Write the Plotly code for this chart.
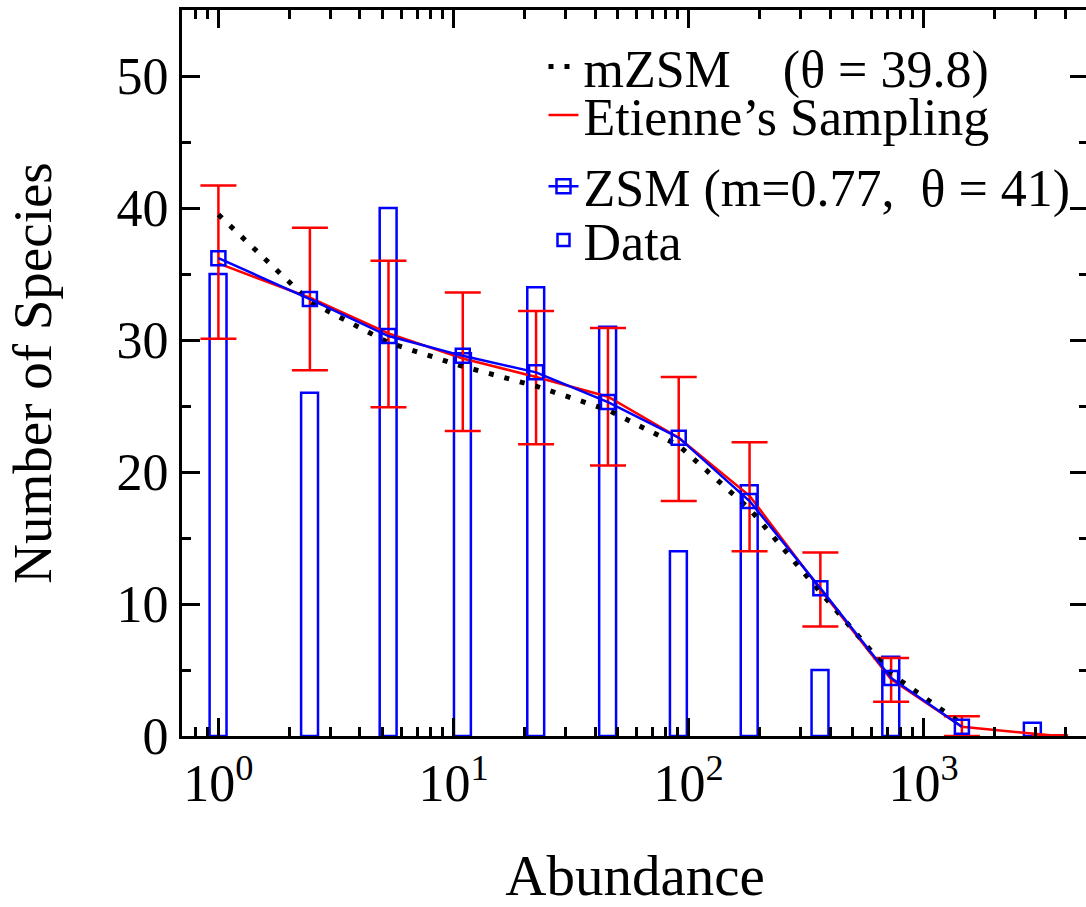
import plotly.graph_objects as go

# ---- data ----
bins = [1, 2.45, 5.29, 10.95, 22.45, 45.4, 90.8, 181.7, 363.5, 727, 1454, 2909]
data_counts = [35, 26, 40, 29, 34, 31, 14, 19, 5, 6, 0, 1]

zsm_x = [1, 2.45, 5.29, 10.95, 22.45, 45.4, 90.8, 181.7, 363.5, 727, 1454]
zsm_y = [36.2, 33.1, 30.3, 28.8, 27.55, 25.3, 22.6, 17.8, 11.2, 4.4, 0.7]

mzsm_x = [1, 2.45, 5.29, 10.95, 22.45, 45.4, 90.8, 181.7, 363.5, 727, 1454]
mzsm_y = [39.5, 32.9, 29.8, 28.0, 26.5, 24.7, 22.0, 17.2, 10.9, 4.7, 0.9]

etienne_x = [1, 2.45, 5.29, 10.95, 22.45, 45.4, 90.8, 181.7, 363.5, 727, 1454, 3450]
etienne_y = [35.8, 33.2, 30.5, 28.6, 27.2, 25.7, 22.6, 18.2, 11.1, 4.3, 0.7, 0.05]
etienne_hi = [41.7, 38.5, 36.0, 33.6, 32.2, 30.9, 27.2, 22.25, 13.9, 5.9, 1.5, 0.05]
etienne_lo = [30.1, 27.7, 24.9, 23.1, 22.1, 20.5, 17.8, 14.0, 8.3, 2.6, 0.0, 0.05]

x_tickvals = [1, 10, 100, 1000]
x_ticktext = ["10<sup>0</sup>", "10<sup>1</sup>", "10<sup>2</sup>", "10<sup>3</sup>"]
x_minor = [0.7, 0.8, 0.9] + [d * m for d in (1, 10, 100, 1000) for m in range(2, 10) if d * m <= 5000]

# ---- style ----
FONT = "Liberation Serif, Times New Roman, serif"
BLUE = "#0000ff"
RED = "#ff0000"
half = 1.086  # half bar width as a multiplicative factor in log space

err_plus = [h - c for h, c in zip(etienne_hi, etienne_y)]
err_minus = [c - l for c, l in zip(etienne_y, etienne_lo)]

fig = go.Figure()

# Data bars (open rectangles)
fig.add_trace(go.Bar(
    x=bins, y=data_counts,
    width=[b * (half - 1 / half) for b in bins],
    marker=dict(color="rgba(0,0,0,0)", line=dict(color=BLUE, width=2.5)),
    name="Data", legend="legend4",
))

# Etienne's sampling
fig.add_trace(go.Scatter(
    x=etienne_x, y=etienne_y, mode="lines",
    line=dict(color=RED, width=2.5),
    error_y=dict(type="data", symmetric=False, array=err_plus, arrayminus=err_minus,
                 color=RED, thickness=2.5, width=18),
    name="Etienne\u2019s Sampling", legend="legend2",
))

# mZSM dotted
fig.add_trace(go.Scatter(
    x=mzsm_x, y=mzsm_y, mode="lines",
    line=dict(color="black", width=5, dash="5px,11px"),
    name="mZSM\u00a0\u00a0\u00a0\u00a0(\u03b8 = 39.8)", legend="legend",
))

# ZSM
fig.add_trace(go.Scatter(
    x=zsm_x, y=zsm_y, mode="lines+markers",
    line=dict(color=BLUE, width=2.5),
    marker=dict(symbol="square-open", size=14, color=BLUE, line=dict(width=2.5, color=BLUE)),
    name="ZSM (m=0.77,\u00a0\u00a0\u03b8 = 41)", legend="legend3",
))

LEG_FONT = dict(family=FONT, size=52, color="black")
LEG_X = 0.399


def leg(y):
    return dict(x=LEG_X, y=y, xanchor="left", yanchor="middle", font=LEG_FONT,
                bgcolor="rgba(0,0,0,0)", itemwidth=30)


fig.update_layout(
    width=1094, height=907,
    margin=dict(l=182, r=3, t=10, b=170),
    paper_bgcolor="white", plot_bgcolor="white",
    font=dict(family=FONT, size=50, color="black"),
    showlegend=True,
    legend=leg(0.922),
    legend2=leg(0.855),
    legend3=leg(0.757),
    legend4=leg(0.683),
    xaxis=dict(
        type="log", range=[-0.1549, 3.699],
        tickmode="array", tickvals=x_tickvals, ticktext=x_ticktext,
        ticks="inside", ticklen=18, tickwidth=3, tickcolor="black",
        minor=dict(tickmode="array", tickvals=x_minor, ticks="inside", ticklen=9,
                   tickwidth=3, tickcolor="black", showgrid=False),
        showline=True, linewidth=3, linecolor="black", mirror="ticks",
        showgrid=False, zeroline=False,
        tickfont=dict(family=FONT, size=52, color="black"),
        title=dict(text="Abundance", font=dict(family=FONT, size=57, color="black"), standoff=52),
    ),
    yaxis=dict(
        range=[0, 55], tickmode="array", tickvals=[0, 10, 20, 30, 40, 50],
        ticks="inside", ticklen=18, tickwidth=3, tickcolor="black",
        minor=dict(tickmode="array", tickvals=[5, 15, 25, 35, 45, 55], ticks="inside", ticklen=9,
                   tickwidth=3, tickcolor="black", showgrid=False),
        showline=True, linewidth=3, linecolor="black", mirror="ticks",
        showgrid=False, zeroline=False,
        tickfont=dict(family=FONT, size=52, color="black"),
        title=dict(text="Number of Species", font=dict(family=FONT, size=55, color="black"), standoff=48),
    ),
)

fig.write_html("out.html",
               config={"displayModeBar": False},
               post_script="document.body.style.margin='0';document.body.style.overflow='hidden';")
